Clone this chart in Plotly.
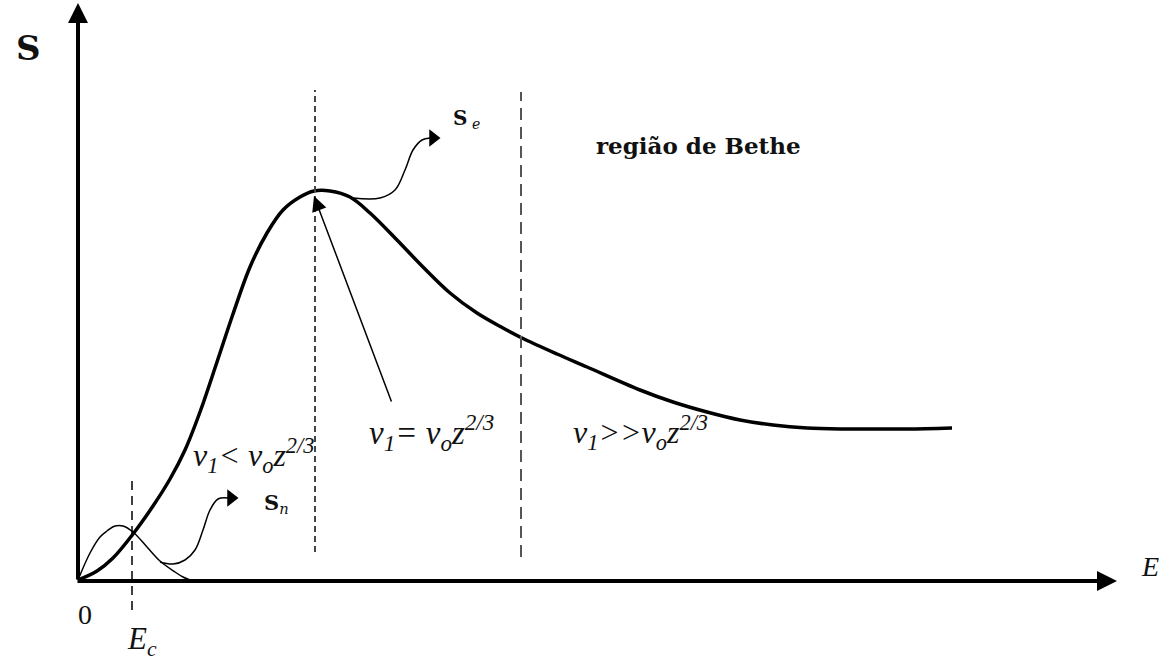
import plotly.graph_objects as go

# Schematic stopping-power curve (E, S in arbitrary drawing units)
se_E = [0, 19, 35, 55, 75, 92, 107, 122, 139, 155, 172, 189, 205, 222, 236, 252, 272, 292, 319, 345,
        372, 399, 425, 444, 479, 509, 562, 595, 629, 662, 695, 729, 762, 795, 829, 874]
se_S = [0, 9, 22, 46, 74, 101, 130, 168, 218, 266, 313, 347, 370, 383, 389, 389, 383, 367, 340, 313,
        287, 267, 252, 242, 226, 213, 190, 178, 168, 160, 155, 152, 151, 151, 151, 152]

sn_E = [0, 12, 22, 29, 37, 45, 55, 69, 82, 97, 105, 112]
sn_S = [0, 27, 43, 49, 54, 54, 48, 33, 19, 8, 3, 0]

# curly pointer to S_n
pn_E = [82, 95, 107, 117, 125, 132, 140, 150]
pn_S = [18, 16, 20, 30, 50, 70, 81, 82]
# curly pointer to S_e
pe_E = [275, 302, 317, 327, 335, 344, 352]
pe_S = [382, 382, 390, 410, 430, 440, 442]

# straight arrow (tail -> head)
arrow_tail = (314, 177)
arrow_head = (236, 384)

Ec = 54
E_peak = 237
E_bethe = 443

axis_E_max = 1039
axis_S_max = 577

FONT = "Liberation Serif"
BFONT = "DejaVu Serif"
TXT = "#111111"

fig = go.Figure()

def line(x, y, width, color="black", dash=None, shape="spline"):
    fig.add_trace(go.Scatter(x=x, y=y, mode="lines",
                             line=dict(color=color, width=width, dash=dash, shape=shape, smoothing=1.0),
                             hoverinfo="skip"))

line(se_E, se_S, 3.5)
line(sn_E, sn_S, 1.5)
line(pn_E, pn_S, 1.5)
line(pe_E, pe_S, 1.5)

# arrowheads of the curly pointers
fig.add_trace(go.Scatter(x=[pn_E[-1] + 3, pe_E[-1] + 3], y=[pn_S[-1], pe_S[-1]], mode="markers",
                         marker=dict(symbol="triangle-right", size=15, color="black"),
                         hoverinfo="skip"))

# dashed guide lines
line([Ec, Ec], [-30, 102], 1.5, color="black", dash="9px,6px", shape="linear")
line([E_peak, E_peak], [28, 490], 2, color="#444444", dash="6px,4px", shape="linear")
line([E_bethe, E_bethe], [23, 488], 2, color="#555555", dash="12px,7px", shape="linear")

ann = []
# axes with arrowheads
ann.append(dict(x=0, y=axis_S_max, ax=0, ay=-1, xref="x", yref="y", axref="x", ayref="y",
                showarrow=True, arrowhead=2, arrowsize=1.0, arrowwidth=4, arrowcolor="black", text=""))
ann.append(dict(x=axis_E_max, y=-1, ax=-2, ay=-1, xref="x", yref="y", axref="x", ayref="y",
                showarrow=True, arrowhead=2, arrowsize=1.0, arrowwidth=4, arrowcolor="black", text=""))
# straight pointer arrow
ann.append(dict(x=arrow_head[0], y=arrow_head[1], ax=arrow_tail[0], ay=arrow_tail[1],
                xref="x", yref="y", axref="x", ayref="y",
                showarrow=True, arrowhead=2, arrowsize=2.0, arrowwidth=1.5, arrowcolor="black", text=""))

def txt(x, y, s, size, xanchor="center", family=FONT):
    ann.append(dict(x=x, y=y, xref="x", yref="y", text=s, showarrow=False, xanchor=xanchor,
                    yanchor="middle", font=dict(family=family, size=size, color=TXT)))

txt(-50, 532, "<b>S</b>", 34, family=BFONT)
txt(7, -34, "0", 28)
txt(64, -61, "<i>E<sub>c</sub></i>", 31)
txt(1072, 14, "<i>E</i>", 28)
txt(373, 461, "<b>S</b><i><sub> e</sub></i>", 20, xanchor="left", family=BFONT)
txt(184, 77, "<b>S</b><i><sub>n</sub></i>", 21, xanchor="left", family=BFONT)
txt(620, 435, "<b>região de Bethe</b>", 23, family=BFONT)
txt(175, 125, "<i>v<sub>1</sub>&lt; v<sub>o</sub>z<sup>2/3</sup></i>", 32)
txt(353, 148, "<i>v<sub>1</sub>= v<sub>o</sub>z<sup>2/3</sup></i>", 33)
txt(562, 148, "<i>v<sub>1</sub>&gt;&gt;v<sub>o</sub>z<sup>2/3</sup></i>", 32)

fig.update_layout(
    width=1168, height=661,
    margin=dict(l=0, r=0, t=0, b=0),
    paper_bgcolor="white", plot_bgcolor="white",
    showlegend=False,
    xaxis=dict(range=[-78, 1090], visible=False, showgrid=False, zeroline=False, fixedrange=True),
    yaxis=dict(range=[-81, 580], visible=False, showgrid=False, zeroline=False, fixedrange=True),
    annotations=ann,
)

fig.write_html("out.html", config={"displayModeBar": False},
               post_script="document.body.style.margin='0';document.body.style.overflow='hidden';")
